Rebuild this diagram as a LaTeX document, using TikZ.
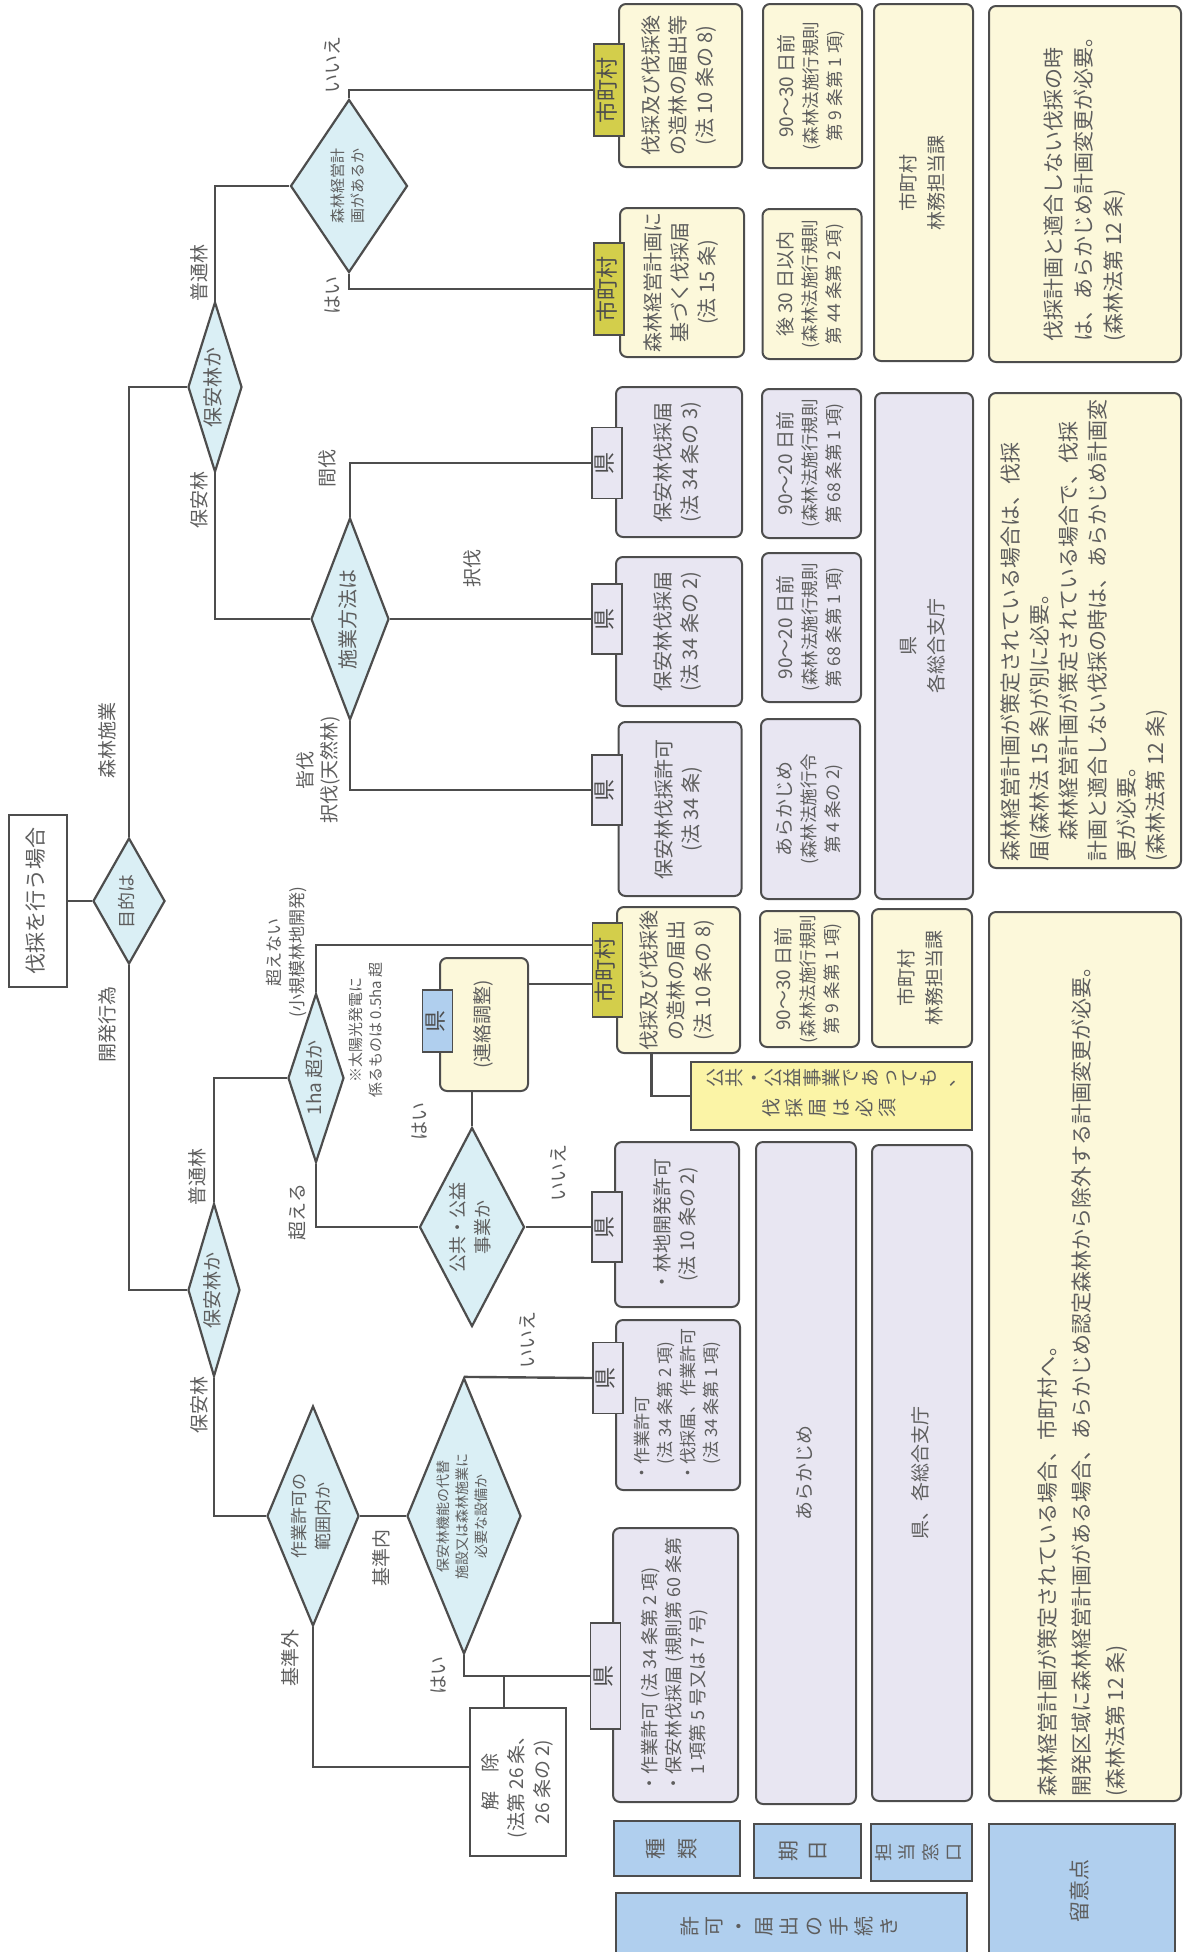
\documentclass[tikz,border=0pt]{standalone}
\usepackage{fontspec}
\setmainfont{Noto Sans CJK JP}
\usepackage{graphicx}
\definecolor{LineGray}{HTML}{4D4D4D}
\definecolor{TextGray}{HTML}{5E5E5E}
\definecolor{DiaBlue}{HTML}{DAEFF5}
\definecolor{PrefLav}{HTML}{E8E6F2}
\definecolor{TownCream}{HTML}{FCF8DA}
\definecolor{NoteYellow}{HTML}{FBF4A6}
\definecolor{TownOlive}{HTML}{D3CE4B}
\definecolor{HeadBlue}{HTML}{B0CFEE}
\usetikzlibrary{shapes.geometric, positioning, calc}

% text turned a quarter left, one tabular per block
\newcommand\vt[1]{\rotatebox{90}{\begin{tabular}{@{}c@{}}#1\end{tabular}}}
\newcommand\vtl[1]{\rotatebox{90}{\begin{tabular}{@{}l@{}}#1\end{tabular}}}
% characters turned one by one (vertical writing), each in a box of the same size
\newlength\tategap
\newcommand\tatechar[1]{\rotatebox{90}{\makebox[1em]{\rule[-0.14em]{0pt}{1.02em}#1}}}
\newcommand\tate[1]{\tatestep#1\relax\hspace{-\tategap}}
\def\tatestep#1{\ifx\relax#1\else\tatechar{#1}\hspace{\tategap}\expandafter\tatestep\fi}
% first line of the date boxes
\newcommand\dayline[1]{{\fontsize{19}{24}\selectfont #1}}

\begin{document}
\begin{tikzpicture}[
  x=1pt, y=-1pt,
  conn/.style={
    draw=LineGray,
    line width=2.4pt},
  decision/.style={
    diamond,
    draw=LineGray,
    line width=2.2pt,
    fill=DiaBlue,
    inner sep=0pt,
    text=TextGray},
  prefbox/.style={
    rectangle,
    rounded corners=7pt,
    draw=LineGray,
    line width=2pt,
    fill=PrefLav,
    inner sep=0pt,
    text=TextGray},
  townbox/.style={prefbox, fill=TownCream},
  datebox/.style={
    #1,
    minimum width=99pt,
    font=\fontsize{17.5}{24}\selectfont},
  plainbox/.style={
    rectangle,
    draw=LineGray,
    line width=2.2pt,
    fill=white,
    inner sep=0pt,
    text=TextGray},
  ctab/.style={
    rectangle,
    draw=LineGray,
    line width=1.8pt,
    fill=#1,
    inner sep=0pt,
    minimum width=30pt,
    text=LineGray,
    font=\fontsize{22}{22}\selectfont},
  ctab/.default=PrefLav,
  headbox/.style={
    rectangle,
    draw=LineGray,
    line width=2pt,
    fill=HeadBlue,
    inner sep=0pt,
    text=TextGray},
  blabel/.style={
    inner sep=0pt,
    text=TextGray,
    font=\fontsize{19}{24}\selectfont},
]
\useasboundingbox (0,0) rectangle (1186,1952);

% --- start and first question
\node[plainbox, minimum width=58pt, minimum height=172pt,
      font=\fontsize{21}{26}\selectfont] (start) at (38,901) {\vt{伐採を行う場合}};
\node[decision, minimum width=72pt, minimum height=126pt, aspect=0.57,
      font=\fontsize{18}{24}\selectfont] (purpose) at (129,901) {\vt{目的は}};

% --- forest operations
\node[decision, minimum width=54pt, minimum height=170pt, aspect=0.32,
      font=\fontsize{20}{26}\selectfont] (hoanU) at (215,387) {\vt{保安林か}};
\node[decision, minimum width=117pt, minimum height=173pt, aspect=0.68,
      font=\fontsize{15}{20}\selectfont] (keiei) at (349,186) {\vt{森林経営計\\画があるか}};
\node[decision, minimum width=78pt, minimum height=202pt, aspect=0.39,
      font=\fontsize{20}{26}\selectfont] (sekou) at (350,619) {\vt{施業方法は}};

\node[townbox, minimum width=123pt, minimum height=163pt,
      font=\fontsize{20}{27}\selectfont] (todokeA) at (680.5,85.5)
  {\vt{伐採及び伐採後\\の造林の届出等\\(法 10 条の 8)}};
\node[townbox, minimum width=124pt, minimum height=149pt,
      font=\fontsize{20}{27}\selectfont] (keikakuB) at (682,282.5)
  {\vt{森林経営計画に\\基づく伐採届\\(法 15 条)}};
\node[ctab=TownOlive, minimum height=92pt] (townA) at (609,90) {\vt{市町村}};
\node[ctab=TownOlive, minimum height=92pt] (townB) at (609,289) {\vt{市町村}};

\node[datebox=townbox, minimum height=164pt] (dateA) at (812.5,86)
  {\vt{\dayline{90〜30 日前}\\(森林法施行規則\\第 9 条第 1 項)}};
\node[datebox=townbox, minimum height=150pt] (dateB) at (812,284)
  {\vt{\dayline{後 30 日以内}\\(森林法施行規則\\第 44 条第 2 項)}};
\node[townbox, minimum width=99pt, minimum height=357pt,
      font=\fontsize{19}{28}\selectfont] (deskA) at (923.5,182.5) {\vt{市町村\\林務担当課}};
\node[townbox, minimum width=192pt, minimum height=356pt,
      font=\fontsize{21}{30}\selectfont] (noteA) at (1085,184)
  {\vtl{伐採計画と適合しない伐採の時\\は、あらかじめ計画変更が必要。\\(森林法第 12 条)}};

\node[prefbox, minimum width=126pt, minimum height=150pt,
      font=\fontsize{20}{27}\selectfont] (hoanC) at (679,462) {\vt{保安林伐採届\\(法 34 条の 3)}};
\node[prefbox, minimum width=126pt, minimum height=149pt,
      font=\fontsize{20}{27}\selectfont] (hoanD) at (679,631.5) {\vt{保安林伐採届\\(法 34 条の 2)}};
\node[prefbox, minimum width=123pt, minimum height=174pt,
      font=\fontsize{20}{27}\selectfont] (hoanE) at (680,809) {\vt{保安林伐採許可\\(法 34 条)}};
\node[ctab, minimum height=71pt] (prefC) at (607,463) {\vt{県}};
\node[ctab, minimum height=70pt] (prefD) at (607,619) {\vt{県}};
\node[ctab, minimum height=70pt] (prefE) at (607,790) {\vt{県}};

\node[datebox=prefbox, minimum height=149pt] (dateC) at (811.5,463.5)
  {\vt{\dayline{90〜20 日前}\\(森林法施行規則\\第 68 条第 1 項)}};
\node[datebox=prefbox, minimum height=149pt] (dateD) at (811.5,627.5)
  {\vt{\dayline{90〜20 日前}\\(森林法施行規則\\第 68 条第 1 項)}};
\node[datebox=prefbox, minimum height=180pt] (dateE) at (810.5,809)
  {\vt{\dayline{あらかじめ}\\(森林法施行令\\第 4 条の 2)}};
\node[prefbox, minimum width=98pt, minimum height=506pt,
      font=\fontsize{19}{28}\selectfont] (deskB) at (924,646) {\vt{県\\各総合支庁}};
\node[townbox, minimum width=192pt, minimum height=475pt,
      font=\fontsize{21}{29}\selectfont] (noteB) at (1085,630.5)
  {\vtl{森林経営計画が策定されている場合は、伐採\\届(森林法 15 条)が別に必要。\\　森林経営計画が策定されている場合で、伐採\\計画と適合しない伐採の時は、あらかじめ計画変\\更が必要。\\(森林法第 12 条)}};

% --- development
\node[decision, minimum width=52pt, minimum height=173pt, aspect=0.30,
      font=\fontsize{19}{25}\selectfont] (hoanL) at (214,1290) {\vt{保安林か}};
\node[decision, minimum width=56pt, minimum height=169pt, aspect=0.33,
      font=\fontsize{19}{25}\selectfont] (area) at (316,1078) {\vt{1ha 超か}};
\node[decision, minimum width=105pt, minimum height=199pt, aspect=0.53,
      font=\fontsize{18}{25}\selectfont] (public) at (472,1227) {\vt{公共・公益\\事業か}};
\node[decision, minimum width=92pt, minimum height=220pt, aspect=0.42,
      font=\fontsize{17}{24}\selectfont] (scope) at (313,1516) {\vt{作業許可の\\範囲内か}};
\node[decision, minimum width=114pt, minimum height=276pt, aspect=0.41,
      font=\fontsize{14}{19}\selectfont] (substit) at (464,1516)
  {\vt{保安林機能の代替\\施設又は森林施業に\\必要な設備か}};

\node[townbox, minimum width=88pt, minimum height=133pt,
      font=\fontsize{19}{25}\selectfont] (liaison) at (484,1024.5) {\vt{(連絡調整)}};
\node[ctab=HeadBlue, minimum height=62pt] (prefL) at (437.5,1021) {\vt{県}};

\node[townbox, minimum width=123pt, minimum height=146pt,
      font=\fontsize{20}{27}\selectfont] (todokeF) at (678.5,980)
  {\vt{伐採及び伐採後\\の造林の届出\\(法 10 条の 8)}};
\node[ctab=TownOlive, minimum height=94pt] (townF) at (607.5,970) {\vt{市町村}};
\node[rectangle, draw=LineGray, line width=2pt, fill=NoteYellow, inner sep=0pt,
      minimum width=281pt, minimum height=68pt, text=TextGray,
      font=\fontsize{19}{30}\selectfont] (mustY) at (831.5,1096)
  {\begin{tabular}{@{}c@{}}{\setlength\tategap{0pt}\tate{公共・公益事業であっても、}}\\
   {\setlength\tategap{4pt}\tate{伐採届は必須}}\end{tabular}};
\node[datebox=townbox, minimum height=136pt] (dateF) at (809.5,979)
  {\vt{\dayline{90〜30 日前}\\(森林法施行規則\\第 9 条第 1 項)}};
\node[townbox, minimum width=100pt, minimum height=138pt,
      font=\fontsize{19}{28}\selectfont] (deskF) at (922,978) {\vt{市町村\\林務担当課}};

\node[prefbox, minimum width=124pt, minimum height=165pt,
      font=\fontsize{19}{25}\selectfont] (devpermit) at (677,1224.5)
  {\vt{・林地開発許可\\(法 10 条の 2)}};
\node[ctab, minimum height=70pt] (prefG) at (607,1227) {\vt{県}};
\node[prefbox, minimum width=124pt, minimum height=170pt,
      font=\fontsize{17}{23}\selectfont] (workpermit) at (678,1405)
  {\vtl{・作業許可\\　(法 34 条第 2 項)\\・伐採届、作業許可\\　(法 34 条第 1 項)}};
\node[ctab, minimum height=71pt] (prefH) at (608,1378) {\vt{県}};
\node[prefbox, minimum width=125pt, minimum height=274pt,
      font=\fontsize{18}{24}\selectfont] (workfell) at (675.5,1665)
  {\vtl{・作業許可 (法 34 条第 2 項)\\・保安林伐採届 (規則第 60 条第\\　1 項第 5 号又は 7 号)}};
\node[ctab, minimum height=106pt] (prefI) at (605.5,1676) {\vt{県}};
\node[plainbox, minimum width=96pt, minimum height=148pt,
      font=\fontsize{19}{26}\selectfont] (release) at (518,1782)
  {\vt{解　除\\(法第 26 条、\\26 条の 2)}};

\node[prefbox, minimum width=100pt, minimum height=662pt,
      font=\fontsize{19}{25}\selectfont] (dateG) at (806,1473) {\vt{あらかじめ}};
\node[prefbox, minimum width=100pt, minimum height=656pt,
      font=\fontsize{19}{25}\selectfont] (deskG) at (922,1473) {\vt{県、各総合支庁}};
\node[townbox, minimum width=192pt, minimum height=889pt] (noteC) at (1085,1356.5) {};
\node[inner sep=0pt, text=TextGray, font=\fontsize{21}{34}\selectfont,
      anchor=south] (noteCtext) at (1083,1797)
  {\vtl{森林経営計画が策定されている場合、市町村へ。\\開発区域に森林経営計画がある場合、あらかじめ認定森林から除外する計画変更が必要。\\(森林法第 12 条)}};

% --- column heads
\node[headbox, minimum width=126pt, minimum height=55pt,
      font=\fontsize{21}{21}\selectfont] (hKind) at (677,1848.5)
  {\setlength\tategap{11pt}\tate{種類}};
\node[headbox, minimum width=107pt, minimum height=54pt,
      font=\fontsize{21}{21}\selectfont] (hDate) at (807.5,1851)
  {\setlength\tategap{8pt}\tate{期日}};
\node[headbox, minimum width=101pt, minimum height=57pt,
      font=\fontsize{18}{18}\selectfont] (hDesk) at (921.5,1852.5)
  {\setlength\tategap{5pt}\tate{担当窓口}};
\node[headbox, minimum width=351pt, minimum height=66pt,
      font=\fontsize{20}{20}\selectfont] (hProc) at (791.5,1926)
  {\setlength\tategap{4.5pt}\tate{許可・届出の手続き}};
\node[headbox, minimum width=186pt, minimum height=134pt,
      font=\fontsize{21}{26}\selectfont] (hNote) at (1082,1891) {\vt{留意点}};

% --- branch labels
\node[blabel] (lblForest) at (110,740) {\vt{森林施業}};
\node[blabel] (lblDev) at (110,1024) {\vt{開発行為}};
\node[blabel] (lblNormU) at (202,273) {\vt{普通林}};
\node[blabel] (lblHoanU) at (202,500) {\vt{保安林}};
\node[blabel] (lblNoA) at (335,65) {\vt{いいえ}};
\node[blabel] (lblYesA) at (335,295) {\vt{はい}};
\node[blabel] (lblThin) at (330,468) {\vt{間伐}};
\node[blabel] (lblSel) at (475,568) {\vt{択伐}};
\node[blabel] (lblClear) at (320,770) {\vt{皆伐\\択伐(天然林)}};
\node[blabel, font=\fontsize{17}{23}\selectfont] (lblUnder) at (287,952)
  {\vt{超えない\\(小規模林地開発)}};
\node[blabel, font=\fontsize{15}{20}\selectfont] (lblSolar) at (367,1030)
  {\vt{※太陽光発電に\\係るものは 0.5ha 超}};
\node[blabel] (lblYesB) at (422,1121) {\vt{はい}};
\node[blabel] (lblNormL) at (200,1177) {\vt{普通林}};
\node[blabel] (lblOver) at (300,1212) {\vt{超える}};
\node[blabel] (lblNoB) at (561,1173) {\vt{いいえ}};
\node[blabel] (lblHoanL) at (202,1405) {\vt{保安林}};
\node[blabel] (lblNoC) at (530,1340) {\vt{いいえ}};
\node[blabel] (lblIn) at (384,1558) {\vt{基準内}};
\node[blabel] (lblOut) at (293,1658) {\vt{基準外}};
\node[blabel] (lblYesC) at (441,1675) {\vt{はい}};

% --- connectors
\draw[conn] (start) -- (purpose);
\draw[conn] (purpose.north) |- (hoanU.west);
\draw[conn] (purpose.south) |- (hoanL.west);
\draw[conn] (hoanU.north) |- (keiei.west);
\draw[conn] (keiei.north) |- (townA.west);
\draw[conn] (keiei.south) |- (townB.west);
\draw[conn] (hoanU.south) |- (sekou.west);
\draw[conn] (sekou.north) |- (prefC.west);
\draw[conn] (sekou) -- (prefD);
\draw[conn] (sekou.south) |- (prefE.west);

\draw[conn] (hoanL.north) |- (area.west);
\draw[conn] (area.north) |- ([yshift=25pt]townF.west);
\coordinate (townFin) at ([yshift=-14pt]townF.west);
\draw[conn] (townFin -| liaison.east) -- (townFin);
\draw[conn] (area.south) |- (public.west);
\draw[conn] (public.north) -- (public.north |- liaison.south);
\draw[conn] (public) -- (prefG);
\draw[conn] ([xshift=-27pt]todokeF.south) |- (mustY.west);
\draw[conn] (hoanL.south) |- (scope.west);
\draw[conn] (scope) -- (substit);
\draw[conn] (substit.north) -- (prefH.west);
\draw[conn] (substit.south) |- (prefI.west);
\draw[conn] ([xshift=-14pt]release.north) -- ([xshift=-14pt]release.north |- prefI.west);
\draw[conn] (scope.south) |- ([yshift=15pt]release.west);

\end{tikzpicture}
\end{document}
